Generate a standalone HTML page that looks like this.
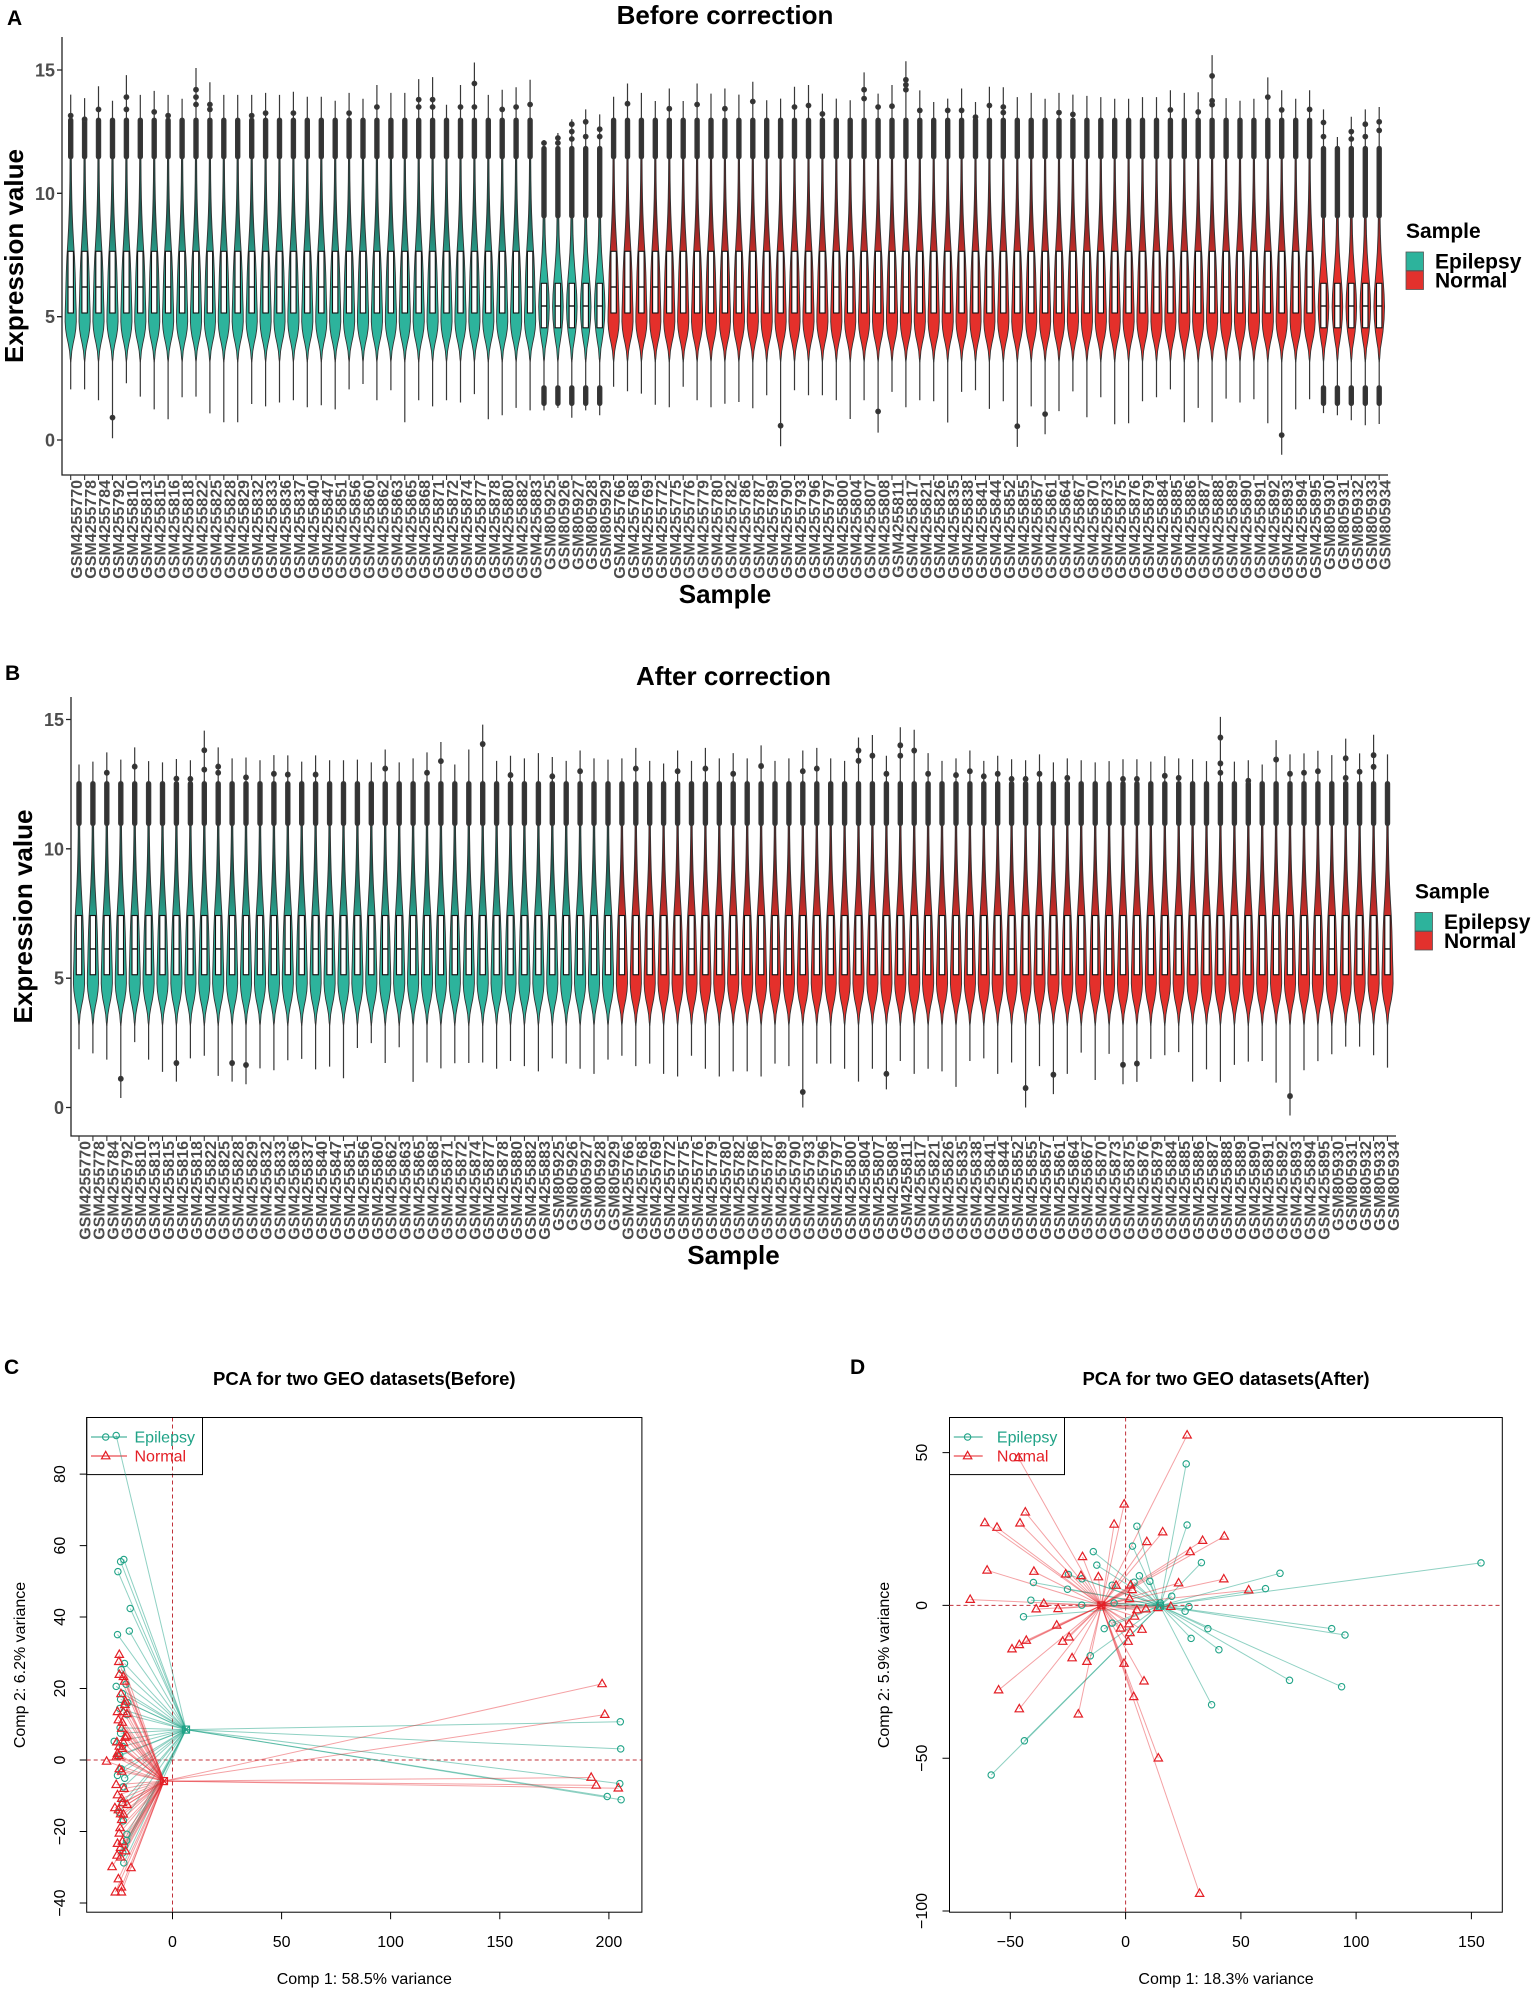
<!DOCTYPE html>
<html><head><meta charset="utf-8"><style>
html,body{margin:0;padding:0;background:#fff}
svg{display:block}
text{font-family:"Liberation Sans",Arial,sans-serif}
.v circle{fill:#333}
.ax{font-weight:bold;fill:#4d4d4d}
.gl{font-weight:bold;font-size:16px;fill:#4d4d4d;text-anchor:end}
.r text{font-size:16px;fill:#000}
.r text.pl{font-size:21px;font-weight:bold}
</style></head><body>
<svg width="1535" height="1993" viewBox="0 0 1535 1993" xmlns="http://www.w3.org/2000/svg">
<defs>
<linearGradient id="gE" gradientUnits="userSpaceOnUse" x1="0" y1="-172" x2="0" y2="-232"><stop offset="0" stop-color="#2DB39C"/><stop offset="1" stop-color="#1c5a50"/></linearGradient>
<linearGradient id="gN" gradientUnits="userSpaceOnUse" x1="0" y1="-172" x2="0" y2="-232"><stop offset="0" stop-color="#E4302B"/><stop offset="1" stop-color="#6e2222"/></linearGradient>
<path id="vr" stroke="#333" stroke-width="0.9" stroke-linejoin="round" d="M0,-78L0.5,-81.4 1.1,-88.8 2.4,-96.2 4,-103.6 5.1,-111 5.6,-118.4 5.5,-128.3 5.1,-140.6 4.8,-153 4.4,-167.8 3.8,-182.6 2.9,-197.4 2.1,-212.2 1.5,-227 1.1,-241.8 0.8,-259 0.6,-283.7 0.5,-308.4 0,-312 -0.5,-308.4 -0.6,-283.7 -0.8,-259 -1.1,-241.8 -1.5,-227 -2.1,-212.2 -2.9,-197.4 -3.8,-182.6 -4.4,-167.8 -4.8,-153 -5.1,-140.6 -5.5,-128.3 -5.6,-118.4 -5.1,-111 -4,-103.6 -2.4,-96.2 -1.1,-88.8 -0.5,-81.4Z"/>
<path id="vs" stroke="#333" stroke-width="0.9" stroke-linejoin="round" d="M0,-78L0.5,-81.4 1.2,-91.3 2.4,-98.7 3.8,-108.5 4.9,-120.9 5.3,-133.2 4.9,-145.6 4.1,-157.9 2.9,-172.7 1.9,-187.5 1.2,-204.8 0.9,-222 0.7,-246.7 0.5,-271.4 0,-275 -0.5,-271.4 -0.7,-246.7 -0.9,-222 -1.2,-204.8 -1.9,-187.5 -2.9,-172.7 -4.1,-157.9 -4.9,-145.6 -5.3,-133.2 -4.9,-120.9 -3.8,-108.5 -2.4,-98.7 -1.2,-91.3 -0.5,-81.4Z"/>
<g id="br" stroke="#111" stroke-width="1.1"><rect x="-2.7" y="-188.7" width="5.4" height="61.7" fill="#fff"/><path d="M-2.7-153H2.7" stroke-width="1.4"/></g>
<g id="bs" stroke="#111" stroke-width="1.1"><rect x="-2.7" y="-156.7" width="5.4" height="44.5" fill="#fff"/><path d="M-2.7-134H2.7" stroke-width="1.4"/></g>
<g id="bb" stroke="#111" stroke-width="1.1"><rect x="-2.7" y="-183.1" width="5.4" height="56.5" fill="#fff"/><path d="M-2.7-151.2H2.7" stroke-width="1.4"/></g>
<rect id="or" x="-2.1" y="-321.9" width="4.2" height="40.7" rx="2.1" fill="#333"/>
<g id="os" fill="#333"><rect x="-2.1" y="-293.6" width="4.2" height="71.6" rx="2.1"/><rect x="-2.1" y="-54.3" width="4.2" height="19.8" rx="2.1"/></g>
<rect id="ob" x="-2.1" y="-310.8" width="4.2" height="41.9" rx="2.1" fill="#333"/>
<path id="tr" d="M0-4.6L4.2,2.8H-4.2Z" fill="none" stroke="#E41F26" stroke-width="1.2"/>
</defs>
<rect width="1535" height="1993" fill="#fff"/>

<!-- ================= PANEL A ================= -->
<text x="7" y="25" font-size="21" font-weight="bold">A</text>
<text x="725" y="24" font-size="26" font-weight="bold" text-anchor="middle">Before correction</text>
<g class="v" transform="translate(0,440)" stroke="#383838" stroke-width="1.2">
<g fill="url(#gE)">
<g transform="translate(70.7)"><path d="M0-50.6V-345.4"/><use href="#vr"/><use href="#br"/><use href="#or"/><circle cy="-324.4" r="2.3"/></g>
<g transform="translate(84.6)"><path d="M0-50.6V-341.9"/><use href="#vr"/><use href="#br"/><use href="#or"/><circle cy="-320.7" r="2.3"/></g>
<g transform="translate(98.5)"><path d="M0-39.7V-353.8"/><use href="#vr"/><use href="#br"/><use href="#or"/><circle cy="-330.6" r="2.3"/></g>
<g transform="translate(112.5)"><path d="M0-1.7V-339.2"/><use href="#vr"/><use href="#br"/><use href="#or"/><circle cy="-22.4" r="2.3"/></g>
<g transform="translate(126.4)"><path d="M0-56.7V-364.9"/><use href="#vr"/><use href="#br"/><use href="#or"/><circle cy="-342.9" r="2.3"/><circle cy="-330.6" r="2.3"/></g>
<g transform="translate(140.3)"><path d="M0-43.4V-345.1"/><use href="#vr"/><use href="#br"/><use href="#or"/></g>
<g transform="translate(154.2)"><path d="M0-30.6V-349.1"/><use href="#vr"/><use href="#br"/><use href="#or"/><circle cy="-328.1" r="2.3"/></g>
<g transform="translate(168.1)"><path d="M0-20.7V-345.1"/><use href="#vr"/><use href="#br"/><use href="#or"/><circle cy="-324.4" r="2.3"/></g>
<g transform="translate(182.1)"><path d="M0-42.7V-341.2"/><use href="#vr"/><use href="#br"/><use href="#or"/></g>
<g transform="translate(196)"><path d="M0-43.4V-372"/><use href="#vr"/><use href="#br"/><use href="#or"/><circle cy="-350.3" r="2.3"/><circle cy="-342.9" r="2.3"/><circle cy="-335.5" r="2.3"/></g>
<g transform="translate(209.9)"><path d="M0-26.6V-357.7"/><use href="#vr"/><use href="#br"/><use href="#or"/><circle cy="-335.5" r="2.3"/><circle cy="-330.6" r="2.3"/></g>
<g transform="translate(223.8)"><path d="M0-17.8V-345.1"/><use href="#vr"/><use href="#br"/><use href="#or"/></g>
<g transform="translate(237.7)"><path d="M0-17.8V-345.1"/><use href="#vr"/><use href="#br"/><use href="#or"/></g>
<g transform="translate(251.7)"><path d="M0-36V-345.1"/><use href="#vr"/><use href="#br"/><use href="#or"/><circle cy="-324.4" r="2.3"/></g>
<g transform="translate(265.6)"><path d="M0-33.6V-347.1"/><use href="#vr"/><use href="#br"/><use href="#or"/><circle cy="-326.9" r="2.3"/></g>
<g transform="translate(279.5)"><path d="M0-37.5V-345.1"/><use href="#vr"/><use href="#br"/><use href="#or"/></g>
<g transform="translate(293.4)"><path d="M0-39.7V-348.3"/><use href="#vr"/><use href="#br"/><use href="#or"/><circle cy="-326.9" r="2.3"/></g>
<g transform="translate(307.3)"><path d="M0-32.8V-343.2"/><use href="#vr"/><use href="#br"/><use href="#or"/></g>
<g transform="translate(321.3)"><path d="M0-34.8V-343.2"/><use href="#vr"/><use href="#br"/><use href="#or"/></g>
<g transform="translate(335.2)"><path d="M0-30.6V-339.2"/><use href="#vr"/><use href="#br"/><use href="#or"/></g>
<g transform="translate(349.1)"><path d="M0-50.6V-347.1"/><use href="#vr"/><use href="#br"/><use href="#or"/><circle cy="-326.9" r="2.3"/></g>
<g transform="translate(363)"><path d="M0-56V-341.2"/><use href="#vr"/><use href="#br"/><use href="#or"/></g>
<g transform="translate(376.9)"><path d="M0-39.7V-355"/><use href="#vr"/><use href="#br"/><use href="#or"/><circle cy="-333" r="2.3"/></g>
<g transform="translate(390.9)"><path d="M0-49.8V-347.1"/><use href="#vr"/><use href="#br"/><use href="#or"/></g>
<g transform="translate(404.8)"><path d="M0-17.8V-347.1"/><use href="#vr"/><use href="#br"/><use href="#or"/></g>
<g transform="translate(418.7)"><path d="M0-39.7V-360.9"/><use href="#vr"/><use href="#br"/><use href="#or"/><circle cy="-340.4" r="2.3"/><circle cy="-333" r="2.3"/></g>
<g transform="translate(432.6)"><path d="M0-33.6V-362.9"/><use href="#vr"/><use href="#br"/><use href="#or"/><circle cy="-340.4" r="2.3"/><circle cy="-333" r="2.3"/></g>
<g transform="translate(446.5)"><path d="M0-39.7V-335.3"/><use href="#vr"/><use href="#br"/><use href="#or"/></g>
<g transform="translate(460.5)"><path d="M0-37.5V-355"/><use href="#vr"/><use href="#br"/><use href="#or"/><circle cy="-333" r="2.3"/></g>
<g transform="translate(474.4)"><path d="M0-45.9V-377.5"/><use href="#vr"/><use href="#br"/><use href="#or"/><circle cy="-356.5" r="2.3"/><circle cy="-333" r="2.3"/></g>
<g transform="translate(488.3)"><path d="M0-20.7V-345.1"/><use href="#vr"/><use href="#br"/><use href="#or"/></g>
<g transform="translate(502.2)"><path d="M0-24.7V-350.3"/><use href="#vr"/><use href="#br"/><use href="#or"/><circle cy="-330.6" r="2.3"/></g>
<g transform="translate(516.1)"><path d="M0-32.1V-352.8"/><use href="#vr"/><use href="#br"/><use href="#or"/><circle cy="-333" r="2.3"/></g>
<g transform="translate(530.1)"><path d="M0-29.6V-360.2"/><use href="#vr"/><use href="#br"/><use href="#or"/><circle cy="-335.5" r="2.3"/></g>
<g transform="translate(544)"><path d="M0-29.6V-300"/><use href="#vs"/><use href="#bs"/><use href="#os"/><circle cy="-297" r="2.3"/></g>
<g transform="translate(557.9)"><path d="M0-32.1V-307"/><use href="#vs"/><use href="#bs"/><use href="#os"/><circle cy="-302" r="2.3"/><circle cy="-297" r="2.3"/></g>
<g transform="translate(571.8)"><path d="M0-22.2V-320.7"/><use href="#vs"/><use href="#bs"/><use href="#os"/><circle cy="-315.8" r="2.3"/><circle cy="-308.4" r="2.3"/><circle cy="-301" r="2.3"/></g>
<g transform="translate(585.7)"><path d="M0-29.6V-330.6"/><use href="#vs"/><use href="#bs"/><use href="#os"/><circle cy="-318.2" r="2.3"/><circle cy="-303.4" r="2.3"/></g>
<g transform="translate(599.7)"><path d="M0-24.7V-325.6"/><use href="#vs"/><use href="#bs"/><use href="#os"/><circle cy="-310.8" r="2.3"/><circle cy="-303.4" r="2.3"/></g>
</g>
<g fill="url(#gN)">
<g transform="translate(613.6)"><path d="M0-53.3V-343.2"/><use href="#vr"/><use href="#br"/><use href="#or"/></g>
<g transform="translate(627.5)"><path d="M0-48.8V-356.5"/><use href="#vr"/><use href="#br"/><use href="#or"/><circle cy="-336.3" r="2.3"/></g>
<g transform="translate(641.4)"><path d="M0-46.4V-347.1"/><use href="#vr"/><use href="#br"/><use href="#or"/></g>
<g transform="translate(655.3)"><path d="M0-35.3V-339"/><use href="#vr"/><use href="#br"/><use href="#or"/></g>
<g transform="translate(669.3)"><path d="M0-32.8V-351.5"/><use href="#vr"/><use href="#br"/><use href="#or"/><circle cy="-331.3" r="2.3"/></g>
<g transform="translate(683.2)"><path d="M0-53.3V-339"/><use href="#vr"/><use href="#br"/><use href="#or"/></g>
<g transform="translate(697.1)"><path d="M0-39.7V-356.5"/><use href="#vr"/><use href="#br"/><use href="#or"/><circle cy="-335.5" r="2.3"/></g>
<g transform="translate(711)"><path d="M0-32.8V-346.4"/><use href="#vr"/><use href="#br"/><use href="#or"/></g>
<g transform="translate(724.9)"><path d="M0-36.3V-351.5"/><use href="#vr"/><use href="#br"/><use href="#or"/><circle cy="-331.3" r="2.3"/></g>
<g transform="translate(738.9)"><path d="M0-38V-345.4"/><use href="#vr"/><use href="#br"/><use href="#or"/></g>
<g transform="translate(752.8)"><path d="M0-31.8V-358.2"/><use href="#vr"/><use href="#br"/><use href="#or"/><circle cy="-338.5" r="2.3"/></g>
<g transform="translate(766.7)"><path d="M0-44.7V-339.7"/><use href="#vr"/><use href="#br"/><use href="#or"/></g>
<g transform="translate(780.6)"><path d="M0 6.2V-341.4"/><use href="#vr"/><use href="#br"/><use href="#or"/><circle cy="-14.3" r="2.3"/></g>
<g transform="translate(794.5)"><path d="M0-49.8V-353.3"/><use href="#vr"/><use href="#br"/><use href="#or"/><circle cy="-333" r="2.3"/></g>
<g transform="translate(808.5)"><path d="M0-44.7V-355"/><use href="#vr"/><use href="#br"/><use href="#or"/><circle cy="-334.5" r="2.3"/></g>
<g transform="translate(822.4)"><path d="M0-44.7V-346.4"/><use href="#vr"/><use href="#br"/><use href="#or"/><circle cy="-326.1" r="2.3"/></g>
<g transform="translate(836.3)"><path d="M0-39.7V-341.4"/><use href="#vr"/><use href="#br"/><use href="#or"/></g>
<g transform="translate(850.2)"><path d="M0-21V-339.7"/><use href="#vr"/><use href="#br"/><use href="#or"/></g>
<g transform="translate(864.1)"><path d="M0-39.7V-367.6"/><use href="#vr"/><use href="#br"/><use href="#or"/><circle cy="-350.3" r="2.3"/><circle cy="-341.4" r="2.3"/></g>
<g transform="translate(878.1)"><path d="M0-7.4V-346.4"/><use href="#vr"/><use href="#br"/><use href="#or"/><circle cy="-333" r="2.3"/><circle cy="-28.6" r="2.3"/></g>
<g transform="translate(892)"><path d="M0-48.1V-355"/><use href="#vr"/><use href="#br"/><use href="#or"/><circle cy="-333.8" r="2.3"/></g>
<g transform="translate(905.9)"><path d="M0-32.8V-378.7"/><use href="#vr"/><use href="#br"/><use href="#or"/><circle cy="-360.2" r="2.3"/><circle cy="-355.2" r="2.3"/><circle cy="-350.3" r="2.3"/></g>
<g transform="translate(919.8)"><path d="M0-39.7V-349.6"/><use href="#vr"/><use href="#br"/><use href="#or"/><circle cy="-329.6" r="2.3"/></g>
<g transform="translate(933.7)"><path d="M0-38.7V-338"/><use href="#vr"/><use href="#br"/><use href="#or"/></g>
<g transform="translate(947.7)"><path d="M0-17.5V-341.4"/><use href="#vr"/><use href="#br"/><use href="#or"/><circle cy="-329.6" r="2.3"/></g>
<g transform="translate(961.6)"><path d="M0-48.1V-351.5"/><use href="#vr"/><use href="#br"/><use href="#or"/><circle cy="-329.6" r="2.3"/></g>
<g transform="translate(975.5)"><path d="M0-49.8V-338"/><use href="#vr"/><use href="#br"/><use href="#or"/><circle cy="-322.9" r="2.3"/></g>
<g transform="translate(989.4)"><path d="M0-31.1V-353.3"/><use href="#vr"/><use href="#br"/><use href="#or"/><circle cy="-334.5" r="2.3"/></g>
<g transform="translate(1003.3)"><path d="M0-38.7V-352.8"/><use href="#vr"/><use href="#br"/><use href="#or"/><circle cy="-333" r="2.3"/><circle cy="-327.4" r="2.3"/></g>
<g transform="translate(1017.3)"><path d="M0 6.9V-342.9"/><use href="#vr"/><use href="#br"/><use href="#or"/><circle cy="-13.8" r="2.3"/></g>
<g transform="translate(1031.2)"><path d="M0-33.6V-347.1"/><use href="#vr"/><use href="#br"/><use href="#or"/></g>
<g transform="translate(1045.1)"><path d="M0-5.7V-341.2"/><use href="#vr"/><use href="#br"/><use href="#or"/><circle cy="-25.9" r="2.3"/></g>
<g transform="translate(1059)"><path d="M0-28.9V-347.1"/><use href="#vr"/><use href="#br"/><use href="#or"/><circle cy="-327.4" r="2.3"/></g>
<g transform="translate(1072.9)"><path d="M0-48.6V-345.4"/><use href="#vr"/><use href="#br"/><use href="#or"/><circle cy="-325.6" r="2.3"/></g>
<g transform="translate(1086.9)"><path d="M0-22.7V-344.1"/><use href="#vr"/><use href="#br"/><use href="#or"/></g>
<g transform="translate(1100.8)"><path d="M0-42.7V-342.9"/><use href="#vr"/><use href="#br"/><use href="#or"/></g>
<g transform="translate(1114.7)"><path d="M0-15.8V-341.2"/><use href="#vr"/><use href="#br"/><use href="#or"/></g>
<g transform="translate(1128.6)"><path d="M0-16.8V-341.2"/><use href="#vr"/><use href="#br"/><use href="#or"/></g>
<g transform="translate(1142.5)"><path d="M0-38.7V-342.9"/><use href="#vr"/><use href="#br"/><use href="#or"/></g>
<g transform="translate(1156.5)"><path d="M0-42.7V-342.9"/><use href="#vr"/><use href="#br"/><use href="#or"/></g>
<g transform="translate(1170.4)"><path d="M0-50.6V-349.8"/><use href="#vr"/><use href="#br"/><use href="#or"/><circle cy="-330.1" r="2.3"/></g>
<g transform="translate(1184.3)"><path d="M0-17.8V-347.1"/><use href="#vr"/><use href="#br"/><use href="#or"/></g>
<g transform="translate(1198.2)"><path d="M0-32.1V-347.8"/><use href="#vr"/><use href="#br"/><use href="#or"/><circle cy="-328.1" r="2.3"/></g>
<g transform="translate(1212.1)"><path d="M0-17.8V-384.9"/><use href="#vr"/><use href="#br"/><use href="#or"/><circle cy="-364.1" r="2.3"/><circle cy="-339.2" r="2.3"/><circle cy="-335.3" r="2.3"/></g>
<g transform="translate(1226.1)"><path d="M0-41.4V-341.9"/><use href="#vr"/><use href="#br"/><use href="#or"/></g>
<g transform="translate(1240)"><path d="M0-37.5V-339.2"/><use href="#vr"/><use href="#br"/><use href="#or"/></g>
<g transform="translate(1253.9)"><path d="M0-40.7V-341.2"/><use href="#vr"/><use href="#br"/><use href="#or"/></g>
<g transform="translate(1267.8)"><path d="M0-16.8V-362.6"/><use href="#vr"/><use href="#br"/><use href="#or"/><circle cy="-342.9" r="2.3"/></g>
<g transform="translate(1281.7)"><path d="M0 14.8V-349.8"/><use href="#vr"/><use href="#br"/><use href="#or"/><circle cy="-330.1" r="2.3"/><circle cy="-4.9" r="2.3"/></g>
<g transform="translate(1295.7)"><path d="M0-30.6V-341.2"/><use href="#vr"/><use href="#br"/><use href="#or"/></g>
<g transform="translate(1309.6)"><path d="M0-40.7V-349.8"/><use href="#vr"/><use href="#br"/><use href="#or"/><circle cy="-330.6" r="2.3"/></g>
<g transform="translate(1323.5)"><path d="M0-26.9V-330.6"/><use href="#vs"/><use href="#bs"/><use href="#os"/><circle cy="-317.5" r="2.3"/><circle cy="-303.4" r="2.3"/></g>
<g transform="translate(1337.4)"><path d="M0-24.7V-303"/><use href="#vs"/><use href="#bs"/><use href="#os"/></g>
<g transform="translate(1351.3)"><path d="M0-19.7V-323.2"/><use href="#vs"/><use href="#bs"/><use href="#os"/><circle cy="-308.4" r="2.3"/><circle cy="-301" r="2.3"/></g>
<g transform="translate(1365.3)"><path d="M0-14.8V-330.6"/><use href="#vs"/><use href="#bs"/><use href="#os"/><circle cy="-315.8" r="2.3"/><circle cy="-303.4" r="2.3"/></g>
<g transform="translate(1379.2)"><path d="M0-16V-333"/><use href="#vs"/><use href="#bs"/><use href="#os"/><circle cy="-318.2" r="2.3"/><circle cy="-309.6" r="2.3"/></g>
</g>
</g>
<!-- A axes -->
<g stroke="#222" stroke-width="1.3" fill="none">
<path d="M62 37V475H1388"/>
<path d="M57 70H62M57 193.3H62M57 316.7H62M57 440H62"/>
</g>
<path d="M70.15 477.5H1390" stroke="#333" stroke-width="5" stroke-dasharray="1.1 12.82"/>
<g class="ax" font-size="18" text-anchor="end">
<text x="55" y="76.5">15</text><text x="55" y="199.8">10</text><text x="55" y="323.2">5</text><text x="55" y="446.5">0</text>
</g>
<text transform="translate(23,256) rotate(-90)" font-size="26" font-weight="bold" text-anchor="middle">Expression value</text>
<text x="725" y="603" font-size="26" font-weight="bold" text-anchor="middle">Sample</text>
<g class="gl" transform="translate(0,480) rotate(-90)">
<text y="82.2">GSM4255770</text><text y="96.1">GSM4255778</text><text y="110">GSM4255784</text><text y="124">GSM4255792</text><text y="137.9">GSM4255810</text><text y="151.8">GSM4255813</text><text y="165.7">GSM4255815</text><text y="179.6">GSM4255816</text><text y="193.6">GSM4255818</text><text y="207.5">GSM4255822</text><text y="221.4">GSM4255825</text><text y="235.3">GSM4255828</text><text y="249.2">GSM4255829</text><text y="263.2">GSM4255832</text><text y="277.1">GSM4255833</text><text y="291">GSM4255836</text><text y="304.9">GSM4255837</text><text y="318.8">GSM4255840</text><text y="332.8">GSM4255847</text><text y="346.7">GSM4255851</text><text y="360.6">GSM4255856</text><text y="374.5">GSM4255860</text><text y="388.4">GSM4255862</text><text y="402.4">GSM4255863</text><text y="416.3">GSM4255865</text><text y="430.2">GSM4255868</text><text y="444.1">GSM4255871</text><text y="458">GSM4255872</text><text y="472">GSM4255874</text><text y="485.9">GSM4255877</text><text y="499.8">GSM4255878</text><text y="513.7">GSM4255880</text><text y="527.6">GSM4255882</text><text y="541.6">GSM4255883</text><text y="555.5">GSM805925</text><text y="569.4">GSM805926</text><text y="583.3">GSM805927</text><text y="597.2">GSM805928</text><text y="611.2">GSM805929</text><text y="625.1">GSM4255766</text><text y="639">GSM4255768</text><text y="652.9">GSM4255769</text><text y="666.8">GSM4255772</text><text y="680.8">GSM4255775</text><text y="694.7">GSM4255776</text><text y="708.6">GSM4255779</text><text y="722.5">GSM4255780</text><text y="736.4">GSM4255782</text><text y="750.4">GSM4255786</text><text y="764.3">GSM4255787</text><text y="778.2">GSM4255789</text><text y="792.1">GSM4255790</text><text y="806">GSM4255793</text><text y="820">GSM4255796</text><text y="833.9">GSM4255797</text><text y="847.8">GSM4255800</text><text y="861.7">GSM4255804</text><text y="875.6">GSM4255807</text><text y="889.6">GSM4255808</text><text y="903.5">GSM4255811</text><text y="917.4">GSM4255817</text><text y="931.3">GSM4255821</text><text y="945.2">GSM4255826</text><text y="959.2">GSM4255835</text><text y="973.1">GSM4255838</text><text y="987">GSM4255841</text><text y="1000.9">GSM4255844</text><text y="1014.8">GSM4255852</text><text y="1028.8">GSM4255855</text><text y="1042.7">GSM4255857</text><text y="1056.6">GSM4255861</text><text y="1070.5">GSM4255864</text><text y="1084.4">GSM4255867</text><text y="1098.4">GSM4255870</text><text y="1112.3">GSM4255873</text><text y="1126.2">GSM4255875</text><text y="1140.1">GSM4255876</text><text y="1154">GSM4255879</text><text y="1168">GSM4255884</text><text y="1181.9">GSM4255885</text><text y="1195.8">GSM4255886</text><text y="1209.7">GSM4255887</text><text y="1223.6">GSM4255888</text><text y="1237.6">GSM4255889</text><text y="1251.5">GSM4255890</text><text y="1265.4">GSM4255891</text><text y="1279.3">GSM4255892</text><text y="1293.2">GSM4255893</text><text y="1307.2">GSM4255894</text><text y="1321.1">GSM4255895</text><text y="1335">GSM805930</text><text y="1348.9">GSM805931</text><text y="1362.8">GSM805932</text><text y="1376.8">GSM805933</text><text y="1390.7">GSM805934</text>
</g>
<!-- A legend -->
<text x="1406" y="238" font-size="21" font-weight="bold">Sample</text>
<rect x="1406" y="252" width="17.5" height="18.5" fill="#2DB39C" stroke="#555" stroke-width="0.8"/>
<rect x="1406" y="271" width="17.5" height="18.5" fill="#E2312D" stroke="#555" stroke-width="0.8"/>
<text x="1435" y="268.3" font-size="21" font-weight="bold">Epilepsy</text>
<text x="1435" y="287.3" font-size="21" font-weight="bold">Normal</text>

<!-- ================= PANEL B ================= -->
<text x="5" y="680" font-size="21" font-weight="bold">B</text>
<text x="733.5" y="685" font-size="26" font-weight="bold" text-anchor="middle">After correction</text>
<g class="v" transform="translate(8.3,1107.5) scale(1,1.0486)" stroke="#383838" stroke-width="1.2">
<g fill="url(#gE)">
<g transform="translate(70.7)"><path d="M0-55.5V-327.1"/><use href="#vr"/><use href="#bb"/><use href="#ob"/></g>
<g transform="translate(84.6)"><path d="M0-51.6V-329.8"/><use href="#vr"/><use href="#bb"/><use href="#ob"/></g>
<g transform="translate(98.5)"><path d="M0-45.6V-338.7"/><use href="#vr"/><use href="#bb"/><use href="#ob"/><circle cy="-319.2" r="2.3"/></g>
<g transform="translate(112.5)"><path d="M0-9.1V-331.8"/><use href="#vr"/><use href="#bb"/><use href="#ob"/><circle cy="-27.4" r="2.3"/></g>
<g transform="translate(126.4)"><path d="M0-62.4V-343.4"/><use href="#vr"/><use href="#bb"/><use href="#ob"/><circle cy="-325.1" r="2.3"/></g>
<g transform="translate(140.3)"><path d="M0-45.6V-330.3"/><use href="#vr"/><use href="#bb"/><use href="#ob"/></g>
<g transform="translate(154.2)"><path d="M0-34V-329.1"/><use href="#vr"/><use href="#bb"/><use href="#ob"/></g>
<g transform="translate(168.1)"><path d="M0-24.7V-332.3"/><use href="#vr"/><use href="#bb"/><use href="#ob"/><circle cy="-313.6" r="2.3"/><circle cy="-42.4" r="2.3"/></g>
<g transform="translate(182.1)"><path d="M0-46.9V-331.1"/><use href="#vr"/><use href="#bb"/><use href="#ob"/><circle cy="-313.3" r="2.3"/></g>
<g transform="translate(196)"><path d="M0-49.3V-359.4"/><use href="#vr"/><use href="#bb"/><use href="#ob"/><circle cy="-340.7" r="2.3"/><circle cy="-322.2" r="2.3"/></g>
<g transform="translate(209.9)"><path d="M0-30.1V-343.4"/><use href="#vr"/><use href="#bb"/><use href="#ob"/><circle cy="-325.1" r="2.3"/><circle cy="-319.2" r="2.3"/></g>
<g transform="translate(223.8)"><path d="M0-24.7V-333"/><use href="#vr"/><use href="#bb"/><use href="#ob"/><circle cy="-42.4" r="2.3"/></g>
<g transform="translate(237.7)"><path d="M0-22.2V-333.8"/><use href="#vr"/><use href="#bb"/><use href="#ob"/><circle cy="-314.8" r="2.3"/><circle cy="-40.5" r="2.3"/></g>
<g transform="translate(251.7)"><path d="M0-37.3V-331.1"/><use href="#vr"/><use href="#bb"/><use href="#ob"/></g>
<g transform="translate(265.6)"><path d="M0-35.5V-336"/><use href="#vr"/><use href="#bb"/><use href="#ob"/><circle cy="-318.2" r="2.3"/></g>
<g transform="translate(279.5)"><path d="M0-45.1V-335.8"/><use href="#vr"/><use href="#bb"/><use href="#ob"/><circle cy="-317.5" r="2.3"/></g>
<g transform="translate(293.4)"><path d="M0-46.4V-329.8"/><use href="#vr"/><use href="#bb"/><use href="#ob"/></g>
<g transform="translate(307.3)"><path d="M0-36.3V-335.8"/><use href="#vr"/><use href="#bb"/><use href="#ob"/><circle cy="-317.5" r="2.3"/></g>
<g transform="translate(321.3)"><path d="M0-39V-331.1"/><use href="#vr"/><use href="#bb"/><use href="#ob"/></g>
<g transform="translate(335.2)"><path d="M0-27.9V-331.1"/><use href="#vr"/><use href="#bb"/><use href="#ob"/></g>
<g transform="translate(349.1)"><path d="M0-56.7V-331.8"/><use href="#vr"/><use href="#bb"/><use href="#ob"/></g>
<g transform="translate(363)"><path d="M0-61.4V-329.1"/><use href="#vr"/><use href="#bb"/><use href="#ob"/></g>
<g transform="translate(376.9)"><path d="M0-42.4V-341.4"/><use href="#vr"/><use href="#bb"/><use href="#ob"/><circle cy="-323.2" r="2.3"/></g>
<g transform="translate(390.9)"><path d="M0-57.5V-329.1"/><use href="#vr"/><use href="#bb"/><use href="#ob"/></g>
<g transform="translate(404.8)"><path d="M0-24.4V-333"/><use href="#vr"/><use href="#bb"/><use href="#ob"/></g>
<g transform="translate(418.7)"><path d="M0-42.9V-338.7"/><use href="#vr"/><use href="#bb"/><use href="#ob"/><circle cy="-319.2" r="2.3"/></g>
<g transform="translate(432.6)"><path d="M0-37.3V-348.6"/><use href="#vr"/><use href="#bb"/><use href="#ob"/><circle cy="-330.3" r="2.3"/></g>
<g transform="translate(446.5)"><path d="M0-42.2V-327.1"/><use href="#vr"/><use href="#bb"/><use href="#ob"/></g>
<g transform="translate(460.5)"><path d="M0-42.4V-341.4"/><use href="#vr"/><use href="#bb"/><use href="#ob"/></g>
<g transform="translate(474.4)"><path d="M0-42.9V-365.1"/><use href="#vr"/><use href="#bb"/><use href="#ob"/><circle cy="-346.6" r="2.3"/></g>
<g transform="translate(488.3)"><path d="M0-37V-330.6"/><use href="#vr"/><use href="#bb"/><use href="#ob"/></g>
<g transform="translate(502.2)"><path d="M0-44.4V-335.5"/><use href="#vr"/><use href="#bb"/><use href="#ob"/><circle cy="-317" r="2.3"/></g>
<g transform="translate(516.1)"><path d="M0-39.5V-333"/><use href="#vr"/><use href="#bb"/><use href="#ob"/></g>
<g transform="translate(530.1)"><path d="M0-34.5V-338"/><use href="#vr"/><use href="#bb"/><use href="#ob"/></g>
<g transform="translate(544)"><path d="M0-46.9V-334.3"/><use href="#vr"/><use href="#bb"/><use href="#ob"/><circle cy="-315.8" r="2.3"/></g>
<g transform="translate(557.9)"><path d="M0-41.9V-330.6"/><use href="#vr"/><use href="#bb"/><use href="#ob"/></g>
<g transform="translate(571.8)"><path d="M0-37V-340.4"/><use href="#vr"/><use href="#bb"/><use href="#ob"/><circle cy="-320.7" r="2.3"/></g>
<g transform="translate(585.7)"><path d="M0-32.1V-333"/><use href="#vr"/><use href="#bb"/><use href="#ob"/></g>
<g transform="translate(599.7)"><path d="M0-45.6V-331.8"/><use href="#vr"/><use href="#bb"/><use href="#ob"/></g>
</g>
<g fill="url(#gN)">
<g transform="translate(613.6)"><path d="M0-49.3V-333"/><use href="#vr"/><use href="#bb"/><use href="#ob"/></g>
<g transform="translate(627.5)"><path d="M0-39.5V-342.9"/><use href="#vr"/><use href="#bb"/><use href="#ob"/><circle cy="-323.2" r="2.3"/></g>
<g transform="translate(641.4)"><path d="M0-41.9V-330.6"/><use href="#vr"/><use href="#bb"/><use href="#ob"/></g>
<g transform="translate(655.3)"><path d="M0-32.1V-328.1"/><use href="#vr"/><use href="#bb"/><use href="#ob"/></g>
<g transform="translate(669.3)"><path d="M0-29.6V-340.4"/><use href="#vr"/><use href="#bb"/><use href="#ob"/><circle cy="-320.7" r="2.3"/></g>
<g transform="translate(683.2)"><path d="M0-49.3V-330.6"/><use href="#vr"/><use href="#bb"/><use href="#ob"/></g>
<g transform="translate(697.1)"><path d="M0-37V-342.9"/><use href="#vr"/><use href="#bb"/><use href="#ob"/><circle cy="-323.2" r="2.3"/></g>
<g transform="translate(711)"><path d="M0-29.6V-333"/><use href="#vr"/><use href="#bb"/><use href="#ob"/></g>
<g transform="translate(724.9)"><path d="M0-34.5V-338"/><use href="#vr"/><use href="#bb"/><use href="#ob"/><circle cy="-318.2" r="2.3"/></g>
<g transform="translate(738.9)"><path d="M0-34.5V-333"/><use href="#vr"/><use href="#bb"/><use href="#ob"/></g>
<g transform="translate(752.8)"><path d="M0-29.6V-345.4"/><use href="#vr"/><use href="#bb"/><use href="#ob"/><circle cy="-325.6" r="2.3"/></g>
<g transform="translate(766.7)"><path d="M0-41.9V-330.6"/><use href="#vr"/><use href="#bb"/><use href="#ob"/></g>
<g transform="translate(780.6)"><path d="M0-39.5V-333"/><use href="#vr"/><use href="#bb"/><use href="#ob"/></g>
<g transform="translate(794.5)"><path d="M0 0V-340.4"/><use href="#vr"/><use href="#bb"/><use href="#ob"/><circle cy="-320.7" r="2.3"/><circle cy="-14.8" r="2.3"/></g>
<g transform="translate(808.5)"><path d="M0-41.9V-342.9"/><use href="#vr"/><use href="#bb"/><use href="#ob"/><circle cy="-323.2" r="2.3"/></g>
<g transform="translate(822.4)"><path d="M0-41.9V-333"/><use href="#vr"/><use href="#bb"/><use href="#ob"/></g>
<g transform="translate(836.3)"><path d="M0-37V-330.6"/><use href="#vr"/><use href="#bb"/><use href="#ob"/></g>
<g transform="translate(850.2)"><path d="M0-24.7V-352.8"/><use href="#vr"/><use href="#bb"/><use href="#ob"/><circle cy="-340.4" r="2.3"/><circle cy="-330.6" r="2.3"/></g>
<g transform="translate(864.1)"><path d="M0-37V-355.2"/><use href="#vr"/><use href="#bb"/><use href="#ob"/><circle cy="-335.5" r="2.3"/></g>
<g transform="translate(878.1)"><path d="M0-17.3V-335.5"/><use href="#vr"/><use href="#bb"/><use href="#ob"/><circle cy="-318.2" r="2.3"/><circle cy="-32.1" r="2.3"/></g>
<g transform="translate(892)"><path d="M0-44.4V-362.6"/><use href="#vr"/><use href="#bb"/><use href="#ob"/><circle cy="-345.4" r="2.3"/><circle cy="-335.5" r="2.3"/></g>
<g transform="translate(905.9)"><path d="M0-32.1V-360.2"/><use href="#vr"/><use href="#bb"/><use href="#ob"/><circle cy="-340.4" r="2.3"/></g>
<g transform="translate(919.8)"><path d="M0-37V-338"/><use href="#vr"/><use href="#bb"/><use href="#ob"/><circle cy="-318.2" r="2.3"/></g>
<g transform="translate(933.7)"><path d="M0-34.5V-330.6"/><use href="#vr"/><use href="#bb"/><use href="#ob"/></g>
<g transform="translate(947.7)"><path d="M0-19.7V-333"/><use href="#vr"/><use href="#bb"/><use href="#ob"/><circle cy="-317" r="2.3"/></g>
<g transform="translate(961.6)"><path d="M0-44.4V-340.4"/><use href="#vr"/><use href="#bb"/><use href="#ob"/><circle cy="-320.7" r="2.3"/></g>
<g transform="translate(975.5)"><path d="M0-46.9V-330.6"/><use href="#vr"/><use href="#bb"/><use href="#ob"/><circle cy="-315.8" r="2.3"/></g>
<g transform="translate(989.4)"><path d="M0-32.1V-335.5"/><use href="#vr"/><use href="#bb"/><use href="#ob"/><circle cy="-318.2" r="2.3"/></g>
<g transform="translate(1003.3)"><path d="M0-42.9V-332.1"/><use href="#vr"/><use href="#bb"/><use href="#ob"/><circle cy="-313.3" r="2.3"/></g>
<g transform="translate(1017.3)"><path d="M0 0V-331.1"/><use href="#vr"/><use href="#bb"/><use href="#ob"/><circle cy="-313.3" r="2.3"/><circle cy="-18.5" r="2.3"/></g>
<g transform="translate(1031.2)"><path d="M0-39.5V-336.7"/><use href="#vr"/><use href="#bb"/><use href="#ob"/><circle cy="-318.2" r="2.3"/></g>
<g transform="translate(1045.1)"><path d="M0-12.8V-329.1"/><use href="#vr"/><use href="#bb"/><use href="#ob"/><circle cy="-31.3" r="2.3"/></g>
<g transform="translate(1059)"><path d="M0-32.1V-333"/><use href="#vr"/><use href="#bb"/><use href="#ob"/><circle cy="-314.3" r="2.3"/></g>
<g transform="translate(1072.9)"><path d="M0-52.3V-331.1"/><use href="#vr"/><use href="#bb"/><use href="#ob"/></g>
<g transform="translate(1086.9)"><path d="M0-26.2V-329.1"/><use href="#vr"/><use href="#bb"/><use href="#ob"/></g>
<g transform="translate(1100.8)"><path d="M0-51.1V-330.3"/><use href="#vr"/><use href="#bb"/><use href="#ob"/></g>
<g transform="translate(1114.7)"><path d="M0-22.2V-332.1"/><use href="#vr"/><use href="#bb"/><use href="#ob"/><circle cy="-313.3" r="2.3"/><circle cy="-40.7" r="2.3"/></g>
<g transform="translate(1128.6)"><path d="M0-24.4V-332.1"/><use href="#vr"/><use href="#bb"/><use href="#ob"/><circle cy="-313.3" r="2.3"/><circle cy="-41.9" r="2.3"/></g>
<g transform="translate(1142.5)"><path d="M0-46.4V-329.8"/><use href="#vr"/><use href="#bb"/><use href="#ob"/></g>
<g transform="translate(1156.5)"><path d="M0-49.8V-335"/><use href="#vr"/><use href="#bb"/><use href="#ob"/><circle cy="-316.3" r="2.3"/></g>
<g transform="translate(1170.4)"><path d="M0-52.8V-333"/><use href="#vr"/><use href="#bb"/><use href="#ob"/><circle cy="-314.3" r="2.3"/></g>
<g transform="translate(1184.3)"><path d="M0-24.7V-332.1"/><use href="#vr"/><use href="#bb"/><use href="#ob"/></g>
<g transform="translate(1198.2)"><path d="M0-36.3V-330.3"/><use href="#vr"/><use href="#bb"/><use href="#ob"/></g>
<g transform="translate(1212.1)"><path d="M0-24.4V-372.5"/><use href="#vr"/><use href="#bb"/><use href="#ob"/><circle cy="-352.8" r="2.3"/><circle cy="-328.1" r="2.3"/><circle cy="-319.2" r="2.3"/></g>
<g transform="translate(1226.1)"><path d="M0-40.7V-329.8"/><use href="#vr"/><use href="#bb"/><use href="#ob"/></g>
<g transform="translate(1240)"><path d="M0-43.7V-331.1"/><use href="#vr"/><use href="#bb"/><use href="#ob"/><circle cy="-311.6" r="2.3"/></g>
<g transform="translate(1253.9)"><path d="M0-44.4V-327.1"/><use href="#vr"/><use href="#bb"/><use href="#ob"/></g>
<g transform="translate(1267.8)"><path d="M0-23.7V-350.3"/><use href="#vr"/><use href="#bb"/><use href="#ob"/><circle cy="-331.8" r="2.3"/></g>
<g transform="translate(1281.7)"><path d="M0 7.6V-336.7"/><use href="#vr"/><use href="#bb"/><use href="#ob"/><circle cy="-318.2" r="2.3"/><circle cy="-10.9" r="2.3"/></g>
<g transform="translate(1295.7)"><path d="M0-35.5V-337.7"/><use href="#vr"/><use href="#bb"/><use href="#ob"/><circle cy="-319.2" r="2.3"/></g>
<g transform="translate(1309.6)"><path d="M0-44.2V-340.2"/><use href="#vr"/><use href="#bb"/><use href="#ob"/><circle cy="-320.7" r="2.3"/></g>
<g transform="translate(1323.5)"><path d="M0-50.8V-336"/><use href="#vr"/><use href="#bb"/><use href="#ob"/></g>
<g transform="translate(1337.4)"><path d="M0-58V-351.8"/><use href="#vr"/><use href="#bb"/><use href="#ob"/><circle cy="-333" r="2.3"/><circle cy="-314.3" r="2.3"/></g>
<g transform="translate(1351.3)"><path d="M0-58V-337.7"/><use href="#vr"/><use href="#bb"/><use href="#ob"/><circle cy="-320.2" r="2.3"/></g>
<g transform="translate(1365.3)"><path d="M0-49.8V-355.5"/><use href="#vr"/><use href="#bb"/><use href="#ob"/><circle cy="-336" r="2.3"/><circle cy="-324.9" r="2.3"/></g>
<g transform="translate(1379.2)"><path d="M0-38V-336.7"/><use href="#vr"/><use href="#bb"/><use href="#ob"/></g>
</g>
</g>
<!-- B axes -->
<g stroke="#222" stroke-width="1.3" fill="none">
<path d="M71 697V1136H1396"/>
<path d="M66 719.5H71M66 848.8H71M66 978.2H71M66 1107.5H71"/>
</g>
<path d="M78.45 1138.5H1398" stroke="#333" stroke-width="5" stroke-dasharray="1.1 12.82"/>
<g class="ax" font-size="18" text-anchor="end">
<text x="64" y="726">15</text><text x="64" y="855.3">10</text><text x="64" y="984.7">5</text><text x="64" y="1114">0</text>
</g>
<text transform="translate(32,916.5) rotate(-90)" font-size="26" font-weight="bold" text-anchor="middle">Expression value</text>
<text x="733.5" y="1264" font-size="26" font-weight="bold" text-anchor="middle">Sample</text>
<g class="gl" transform="translate(0,1141) rotate(-90)">
<text y="90.5">GSM4255770</text><text y="104.4">GSM4255778</text><text y="118.3">GSM4255784</text><text y="132.3">GSM4255792</text><text y="146.2">GSM4255810</text><text y="160.1">GSM4255813</text><text y="174">GSM4255815</text><text y="187.9">GSM4255816</text><text y="201.9">GSM4255818</text><text y="215.8">GSM4255822</text><text y="229.7">GSM4255825</text><text y="243.6">GSM4255828</text><text y="257.5">GSM4255829</text><text y="271.5">GSM4255832</text><text y="285.4">GSM4255833</text><text y="299.3">GSM4255836</text><text y="313.2">GSM4255837</text><text y="327.1">GSM4255840</text><text y="341.1">GSM4255847</text><text y="355">GSM4255851</text><text y="368.9">GSM4255856</text><text y="382.8">GSM4255860</text><text y="396.7">GSM4255862</text><text y="410.7">GSM4255863</text><text y="424.6">GSM4255865</text><text y="438.5">GSM4255868</text><text y="452.4">GSM4255871</text><text y="466.3">GSM4255872</text><text y="480.3">GSM4255874</text><text y="494.2">GSM4255877</text><text y="508.1">GSM4255878</text><text y="522">GSM4255880</text><text y="535.9">GSM4255882</text><text y="549.9">GSM4255883</text><text y="563.8">GSM805925</text><text y="577.7">GSM805926</text><text y="591.6">GSM805927</text><text y="605.5">GSM805928</text><text y="619.5">GSM805929</text><text y="633.4">GSM4255766</text><text y="647.3">GSM4255768</text><text y="661.2">GSM4255769</text><text y="675.1">GSM4255772</text><text y="689.1">GSM4255775</text><text y="703">GSM4255776</text><text y="716.9">GSM4255779</text><text y="730.8">GSM4255780</text><text y="744.7">GSM4255782</text><text y="758.7">GSM4255786</text><text y="772.6">GSM4255787</text><text y="786.5">GSM4255789</text><text y="800.4">GSM4255790</text><text y="814.3">GSM4255793</text><text y="828.3">GSM4255796</text><text y="842.2">GSM4255797</text><text y="856.1">GSM4255800</text><text y="870">GSM4255804</text><text y="883.9">GSM4255807</text><text y="897.9">GSM4255808</text><text y="911.8">GSM4255811</text><text y="925.7">GSM4255817</text><text y="939.6">GSM4255821</text><text y="953.5">GSM4255826</text><text y="967.5">GSM4255835</text><text y="981.4">GSM4255838</text><text y="995.3">GSM4255841</text><text y="1009.2">GSM4255844</text><text y="1023.1">GSM4255852</text><text y="1037.1">GSM4255855</text><text y="1051">GSM4255857</text><text y="1064.9">GSM4255861</text><text y="1078.8">GSM4255864</text><text y="1092.7">GSM4255867</text><text y="1106.7">GSM4255870</text><text y="1120.6">GSM4255873</text><text y="1134.5">GSM4255875</text><text y="1148.4">GSM4255876</text><text y="1162.3">GSM4255879</text><text y="1176.3">GSM4255884</text><text y="1190.2">GSM4255885</text><text y="1204.1">GSM4255886</text><text y="1218">GSM4255887</text><text y="1231.9">GSM4255888</text><text y="1245.9">GSM4255889</text><text y="1259.8">GSM4255890</text><text y="1273.7">GSM4255891</text><text y="1287.6">GSM4255892</text><text y="1301.5">GSM4255893</text><text y="1315.5">GSM4255894</text><text y="1329.4">GSM4255895</text><text y="1343.3">GSM805930</text><text y="1357.2">GSM805931</text><text y="1371.1">GSM805932</text><text y="1385.1">GSM805933</text><text y="1399">GSM805934</text>
</g>
<!-- B legend -->
<text x="1415" y="898.5" font-size="21" font-weight="bold">Sample</text>
<rect x="1415" y="912.5" width="17.5" height="18.5" fill="#2DB39C" stroke="#555" stroke-width="0.8"/>
<rect x="1415" y="931.5" width="17.5" height="18.5" fill="#E2312D" stroke="#555" stroke-width="0.8"/>
<text x="1444" y="928.8" font-size="21" font-weight="bold">Epilepsy</text>
<text x="1444" y="947.8" font-size="21" font-weight="bold">Normal</text>

<!-- ================= PANEL C ================= -->
<g class="r">
<text class="pl" x="4" y="1374">C</text>
<text x="364.3" y="1385" style="font-size:18.5px;font-weight:bold" text-anchor="middle">PCA for two GEO datasets(Before)</text>
<rect x="86.7" y="1417.5" width="555.2" height="494.7" fill="none" stroke="#000" stroke-width="1"/>
<path d="M172.5 1912.2v7M281.6 1912.2v7M390.6 1912.2v7M499.8 1912.2v7M608.9 1912.2v7M86.7 1903h-7M86.7 1831.5h-7M86.7 1760h-7M86.7 1688.5h-7M86.7 1617h-7M86.7 1545.6h-7M86.7 1474.1h-7" stroke="#000" stroke-width="1"/>
<g text-anchor="middle">
<text x="172.5" y="1947">0</text><text x="281.6" y="1947">50</text><text x="390.6" y="1947">100</text><text x="499.8" y="1947">150</text><text x="608.9" y="1947">200</text>
<text transform="translate(65,1903) rotate(-90)">−40</text><text transform="translate(65,1831.5) rotate(-90)">−20</text><text transform="translate(65,1760) rotate(-90)">0</text><text transform="translate(65,1688.5) rotate(-90)">20</text><text transform="translate(65,1617) rotate(-90)">40</text><text transform="translate(65,1545.6) rotate(-90)">60</text><text transform="translate(65,1474.1) rotate(-90)">80</text>
<text x="364.3" y="1984">Comp 1: 58.5% variance</text>
<text transform="translate(25,1665) rotate(-90)">Comp 2: 6.2% variance</text>
</g>
<path d="M172.5 1417.5V1912.2M86.7 1760H641.9" stroke="#C0313A" stroke-width="1" stroke-dasharray="4 3"/>
<rect x="86.7" y="1417.5" width="115.8" height="57.1" fill="none" stroke="#000" stroke-width="1"/>
<path d="M91 1437H127" stroke="#20A387" stroke-width="1"/><circle cx="105.7" cy="1437" r="3.2" fill="none" stroke="#20A387" stroke-width="1.1"/>
<path d="M91 1456H127" stroke="#E41F26" stroke-width="1"/><use href="#tr" x="105.7" y="1456"/>
<text x="134.5" y="1442.5" style="fill:#20A387">Epilepsy</text>
<text x="134.5" y="1461.5" style="fill:#E41F26">Normal</text>
</g>
<g stroke="#20A387" stroke-opacity="0.5" stroke-width="1">
<path d="M116.2 1435.5L186 1729.6"/><path d="M120.6 1561.6L186 1729.6"/><path d="M123.8 1559.5L186 1729.6"/><path d="M117.9 1571.6L186 1729.6"/><path d="M130.2 1608.5L186 1729.6"/><path d="M117.5 1634.6L186 1729.6"/><path d="M129.3 1631L186 1729.6"/><path d="M121.2 1669.6L186 1729.6"/><path d="M116.2 1686.4L186 1729.6"/><path d="M126 1684.2L186 1729.6"/><path d="M122.3 1693.5L186 1729.6"/><path d="M120.6 1699.2L186 1729.6"/><path d="M119.7 1708.5L186 1729.6"/><path d="M126.9 1714.6L186 1729.6"/><path d="M114.2 1741.4L186 1729.6"/><path d="M119.7 1755L186 1729.6"/><path d="M122.5 1746.4L186 1729.6"/><path d="M117.5 1775.4L186 1729.6"/><path d="M124.7 1778.2L186 1729.6"/><path d="M123.4 1786.8L186 1729.6"/><path d="M119.3 1812.2L186 1729.6"/><path d="M126.9 1834.3L186 1729.6"/><path d="M124.7 1845.8L186 1729.6"/><path d="M123.8 1862.9L186 1729.6"/><path d="M122.3 1802.9L186 1729.6"/><path d="M120.1 1727.8L186 1729.6"/><path d="M124.5 1663.5L186 1729.6"/><path d="M121.2 1768.9L186 1729.6"/><path d="M126.7 1840.4L186 1729.6"/><path d="M118.4 1756.4L186 1729.6"/><path d="M123.4 1820.8L186 1729.6"/><path d="M127.8 1702.8L186 1729.6"/><path d="M120.6 1733.2L186 1729.6"/><path d="M122.8 1852.9L186 1729.6"/><path d="M620.3 1721.8L186 1729.6"/><path d="M620.7 1748.9L186 1729.6"/><path d="M619.8 1783.6L186 1729.6"/><path d="M607.2 1796.5L186 1729.6"/><path d="M621.1 1799.7L186 1729.6"/>
</g>
<g stroke="#E41F26" stroke-opacity="0.42" stroke-width="1">
<path d="M119.3 1654.6L164 1781.1"/><path d="M119.3 1674.6L164 1781.1"/><path d="M123.4 1676.7L164 1781.1"/><path d="M124.5 1681.4L164 1781.1"/><path d="M125.6 1701.4L164 1781.1"/><path d="M124.9 1704.6L164 1781.1"/><path d="M117.5 1711.8L164 1781.1"/><path d="M126.9 1713.9L164 1781.1"/><path d="M118.4 1720L164 1781.1"/><path d="M122.3 1722.5L164 1781.1"/><path d="M121.7 1728.5L164 1781.1"/><path d="M126.9 1736.1L164 1781.1"/><path d="M124.9 1737.5L164 1781.1"/><path d="M119.3 1746.4L164 1781.1"/><path d="M122.3 1748.6L164 1781.1"/><path d="M117.5 1753.6L164 1781.1"/><path d="M116.2 1757.1L164 1781.1"/><path d="M106.6 1761.4L164 1781.1"/><path d="M119.3 1768.9L164 1781.1"/><path d="M121.7 1771.4L164 1781.1"/><path d="M116.2 1784.7L164 1781.1"/><path d="M117.5 1795L164 1781.1"/><path d="M121.7 1798.6L164 1781.1"/><path d="M122.5 1802.9L164 1781.1"/><path d="M114.9 1807.9L164 1781.1"/><path d="M118.4 1810L164 1781.1"/><path d="M120.6 1814L164 1781.1"/><path d="M123.4 1814.3L164 1781.1"/><path d="M121.7 1819.7L164 1781.1"/><path d="M119.3 1833.3L164 1781.1"/><path d="M122.5 1841.5L164 1781.1"/><path d="M117.5 1843.6L164 1781.1"/><path d="M120.6 1847.6L164 1781.1"/><path d="M117.1 1855.4L164 1781.1"/><path d="M120.6 1857.2L164 1781.1"/><path d="M112.1 1866.9L164 1781.1"/><path d="M131 1867.9L164 1781.1"/><path d="M118.4 1879L164 1781.1"/><path d="M121.4 1887.2L164 1781.1"/><path d="M115.3 1892.2L164 1781.1"/><path d="M121.4 1892.2L164 1781.1"/><path d="M118.8 1755.7L164 1781.1"/><path d="M123.6 1742.8L164 1781.1"/><path d="M121 1693.9L164 1781.1"/><path d="M120.1 1827.9L164 1781.1"/><path d="M124 1788.6L164 1781.1"/><path d="M116.9 1742.1L164 1781.1"/><path d="M125.6 1851.1L164 1781.1"/><path d="M118.8 1661.7L164 1781.1"/><path d="M123.2 1711.8L164 1781.1"/><path d="M127.1 1804.7L164 1781.1"/><path d="M602.1 1683.9L164 1781.1"/><path d="M604.8 1714.6L164 1781.1"/><path d="M591.2 1777.5L164 1781.1"/><path d="M596.2 1785.4L164 1781.1"/><path d="M618.3 1788.2L164 1781.1"/>
</g>
<g fill="none" stroke="#20A387" stroke-width="1.1">
<circle cx="116.2" cy="1435.5" r="3.2"/><circle cx="120.6" cy="1561.6" r="3.2"/><circle cx="123.8" cy="1559.5" r="3.2"/><circle cx="117.9" cy="1571.6" r="3.2"/><circle cx="130.2" cy="1608.5" r="3.2"/><circle cx="117.5" cy="1634.6" r="3.2"/><circle cx="129.3" cy="1631" r="3.2"/><circle cx="121.2" cy="1669.6" r="3.2"/><circle cx="116.2" cy="1686.4" r="3.2"/><circle cx="126" cy="1684.2" r="3.2"/><circle cx="122.3" cy="1693.5" r="3.2"/><circle cx="120.6" cy="1699.2" r="3.2"/><circle cx="119.7" cy="1708.5" r="3.2"/><circle cx="126.9" cy="1714.6" r="3.2"/><circle cx="114.2" cy="1741.4" r="3.2"/><circle cx="119.7" cy="1755" r="3.2"/><circle cx="122.5" cy="1746.4" r="3.2"/><circle cx="117.5" cy="1775.4" r="3.2"/><circle cx="124.7" cy="1778.2" r="3.2"/><circle cx="123.4" cy="1786.8" r="3.2"/><circle cx="119.3" cy="1812.2" r="3.2"/><circle cx="126.9" cy="1834.3" r="3.2"/><circle cx="124.7" cy="1845.8" r="3.2"/><circle cx="123.8" cy="1862.9" r="3.2"/><circle cx="122.3" cy="1802.9" r="3.2"/><circle cx="120.1" cy="1727.8" r="3.2"/><circle cx="124.5" cy="1663.5" r="3.2"/><circle cx="121.2" cy="1768.9" r="3.2"/><circle cx="126.7" cy="1840.4" r="3.2"/><circle cx="118.4" cy="1756.4" r="3.2"/><circle cx="123.4" cy="1820.8" r="3.2"/><circle cx="127.8" cy="1702.8" r="3.2"/><circle cx="120.6" cy="1733.2" r="3.2"/><circle cx="122.8" cy="1852.9" r="3.2"/><circle cx="620.3" cy="1721.8" r="3.2"/><circle cx="620.7" cy="1748.9" r="3.2"/><circle cx="619.8" cy="1783.6" r="3.2"/><circle cx="607.2" cy="1796.5" r="3.2"/><circle cx="621.1" cy="1799.7" r="3.2"/>
</g>
<g>
<use href="#tr" x="119.3" y="1654.6"/><use href="#tr" x="119.3" y="1674.6"/><use href="#tr" x="123.4" y="1676.7"/><use href="#tr" x="124.5" y="1681.4"/><use href="#tr" x="125.6" y="1701.4"/><use href="#tr" x="124.9" y="1704.6"/><use href="#tr" x="117.5" y="1711.8"/><use href="#tr" x="126.9" y="1713.9"/><use href="#tr" x="118.4" y="1720"/><use href="#tr" x="122.3" y="1722.5"/><use href="#tr" x="121.7" y="1728.5"/><use href="#tr" x="126.9" y="1736.1"/><use href="#tr" x="124.9" y="1737.5"/><use href="#tr" x="119.3" y="1746.4"/><use href="#tr" x="122.3" y="1748.6"/><use href="#tr" x="117.5" y="1753.6"/><use href="#tr" x="116.2" y="1757.1"/><use href="#tr" x="106.6" y="1761.4"/><use href="#tr" x="119.3" y="1768.9"/><use href="#tr" x="121.7" y="1771.4"/><use href="#tr" x="116.2" y="1784.7"/><use href="#tr" x="117.5" y="1795"/><use href="#tr" x="121.7" y="1798.6"/><use href="#tr" x="122.5" y="1802.9"/><use href="#tr" x="114.9" y="1807.9"/><use href="#tr" x="118.4" y="1810"/><use href="#tr" x="120.6" y="1814"/><use href="#tr" x="123.4" y="1814.3"/><use href="#tr" x="121.7" y="1819.7"/><use href="#tr" x="119.3" y="1833.3"/><use href="#tr" x="122.5" y="1841.5"/><use href="#tr" x="117.5" y="1843.6"/><use href="#tr" x="120.6" y="1847.6"/><use href="#tr" x="117.1" y="1855.4"/><use href="#tr" x="120.6" y="1857.2"/><use href="#tr" x="112.1" y="1866.9"/><use href="#tr" x="131" y="1867.9"/><use href="#tr" x="118.4" y="1879"/><use href="#tr" x="121.4" y="1887.2"/><use href="#tr" x="115.3" y="1892.2"/><use href="#tr" x="121.4" y="1892.2"/><use href="#tr" x="118.8" y="1755.7"/><use href="#tr" x="123.6" y="1742.8"/><use href="#tr" x="121" y="1693.9"/><use href="#tr" x="120.1" y="1827.9"/><use href="#tr" x="124" y="1788.6"/><use href="#tr" x="116.9" y="1742.1"/><use href="#tr" x="125.6" y="1851.1"/><use href="#tr" x="118.8" y="1661.7"/><use href="#tr" x="123.2" y="1711.8"/><use href="#tr" x="127.1" y="1804.7"/><use href="#tr" x="602.1" y="1683.9"/><use href="#tr" x="604.8" y="1714.6"/><use href="#tr" x="591.2" y="1777.5"/><use href="#tr" x="596.2" y="1785.4"/><use href="#tr" x="618.3" y="1788.2"/>
</g>
<g fill="none" stroke-width="1.2">
<g transform="translate(186,1729.6)" stroke="#20A387"><rect x="-3.5" y="-3.5" width="7" height="7"/><path d="M-3.5-3.5L3.5 3.5M3.5-3.5L-3.5 3.5"/></g>
<g transform="translate(164,1781.1)" stroke="#E41F26"><rect x="-3.5" y="-3.5" width="7" height="7"/><path d="M-3.5-3.5L3.5 3.5M3.5-3.5L-3.5 3.5"/></g>
</g>

<!-- ================= PANEL D ================= -->
<g class="r">
<text class="pl" x="850" y="1374">D</text>
<text x="1226" y="1385" style="font-size:18.5px;font-weight:bold" text-anchor="middle">PCA for two GEO datasets(After)</text>
<rect x="949.5" y="1417.5" width="552.8" height="494.7" fill="none" stroke="#000" stroke-width="1"/>
<path d="M1010.3 1912.2v7M1125.6 1912.2v7M1240.9 1912.2v7M1356.1 1912.2v7M1471.4 1912.2v7M949.5 1911h-7M949.5 1758.2h-7M949.5 1605.4h-7M949.5 1452.6h-7" stroke="#000" stroke-width="1"/>
<g text-anchor="middle">
<text x="1010.3" y="1947">−50</text><text x="1125.6" y="1947">0</text><text x="1240.9" y="1947">50</text><text x="1356.1" y="1947">100</text><text x="1471.4" y="1947">150</text>
<text transform="translate(927,1911) rotate(-90)">−100</text><text transform="translate(927,1758.2) rotate(-90)">−50</text><text transform="translate(927,1605.4) rotate(-90)">0</text><text transform="translate(927,1452.6) rotate(-90)">50</text>
<text x="1226" y="1984">Comp 1: 18.3% variance</text>
<text transform="translate(889,1665) rotate(-90)">Comp 2: 5.9% variance</text>
</g>
<path d="M1125.6 1417.5V1912.2M949.5 1605.4H1502.3" stroke="#C0313A" stroke-width="1" stroke-dasharray="4 3"/>
<rect x="949.5" y="1417.5" width="115" height="57.1" fill="none" stroke="#000" stroke-width="1"/>
<path d="M953.8 1437H982.7" stroke="#20A387" stroke-width="1"/><circle cx="967.6" cy="1437" r="3.2" fill="none" stroke="#20A387" stroke-width="1.1"/>
<path d="M953.8 1456H982.7" stroke="#E41F26" stroke-width="1"/><use href="#tr" x="967.6" y="1456"/>
<text x="996.9" y="1442.5" style="fill:#20A387">Epilepsy</text>
<text x="996.9" y="1461.5" style="fill:#E41F26">Normal</text>
</g>
<g stroke="#20A387" stroke-opacity="0.5" stroke-width="1">
<path d="M1481 1562.9L1160 1605.7"/><path d="M1186.2 1463.9L1160 1605.7"/><path d="M1187.1 1525L1160 1605.7"/><path d="M1136.9 1526.2L1160 1605.7"/><path d="M1132.5 1546.1L1160 1605.7"/><path d="M1093.3 1551.6L1160 1605.7"/><path d="M1096.8 1565.1L1160 1605.7"/><path d="M1201.4 1562.6L1160 1605.7"/><path d="M1280 1573.3L1160 1605.7"/><path d="M1265.5 1588.6L1160 1605.7"/><path d="M1139.4 1575.8L1160 1605.7"/><path d="M1149.8 1581.3L1160 1605.7"/><path d="M1134.1 1582.2L1160 1605.7"/><path d="M1112.2 1585.2L1160 1605.7"/><path d="M1068.4 1574.5L1160 1605.7"/><path d="M1082 1578.8L1160 1605.7"/><path d="M1033.4 1582.5L1160 1605.7"/><path d="M1067.5 1589.2L1160 1605.7"/><path d="M1030.9 1600.2L1160 1605.7"/><path d="M1081.8 1605.1L1160 1605.7"/><path d="M1114.1 1603L1160 1605.7"/><path d="M1160.4 1603L1160 1605.7"/><path d="M1023.5 1616.7L1160 1605.7"/><path d="M1185.1 1611.2L1160 1605.7"/><path d="M1189 1606.6L1160 1605.7"/><path d="M1112.2 1623.1L1160 1605.7"/><path d="M1104.2 1628.6L1160 1605.7"/><path d="M1207.9 1628.6L1160 1605.7"/><path d="M1331.7 1628.6L1160 1605.7"/><path d="M1345 1635L1160 1605.7"/><path d="M1191.1 1638.4L1160 1605.7"/><path d="M1218.9 1649.7L1160 1605.7"/><path d="M1090.3 1655.8L1160 1605.7"/><path d="M1289.5 1680.3L1160 1605.7"/><path d="M1341.6 1686.7L1160 1605.7"/><path d="M1211.6 1704.7L1160 1605.7"/><path d="M1024.4 1740.8L1160 1605.7"/><path d="M991.2 1775L1160 1605.7"/><path d="M1171.7 1596.2L1160 1605.7"/>
</g>
<g stroke="#E41F26" stroke-opacity="0.42" stroke-width="1">
<path d="M1187.1 1435.2L1101.4 1605.4"/><path d="M1018.4 1457.8L1101.4 1605.4"/><path d="M1124.2 1504.2L1101.4 1605.4"/><path d="M1025.3 1512.2L1101.4 1605.4"/><path d="M984.8 1522.9L1101.4 1605.4"/><path d="M997 1527.5L1101.4 1605.4"/><path d="M1020 1523.2L1101.4 1605.4"/><path d="M1114.1 1524.4L1101.4 1605.4"/><path d="M1162.7 1532.1L1101.4 1605.4"/><path d="M1146.8 1541.8L1101.4 1605.4"/><path d="M1202.6 1540.6L1101.4 1605.4"/><path d="M1224.3 1536.3L1101.4 1605.4"/><path d="M1190.1 1551.9L1101.4 1605.4"/><path d="M1082.5 1556.8L1101.4 1605.4"/><path d="M987.1 1570.3L1101.4 1605.4"/><path d="M1033.9 1571.5L1101.4 1605.4"/><path d="M1065.7 1574.2L1101.4 1605.4"/><path d="M1080.9 1575.8L1101.4 1605.4"/><path d="M1098.4 1577L1101.4 1605.4"/><path d="M1223.8 1579.1L1101.4 1605.4"/><path d="M1178.6 1583.1L1101.4 1605.4"/><path d="M1116.1 1585.5L1101.4 1605.4"/><path d="M1130.7 1585.2L1101.4 1605.4"/><path d="M1132.1 1589.8L1101.4 1605.4"/><path d="M1248.7 1590.1L1101.4 1605.4"/><path d="M1129.5 1598.7L1101.4 1605.4"/><path d="M970.2 1599.6L1101.4 1605.4"/><path d="M1043.8 1603.6L1101.4 1605.4"/><path d="M1036.2 1609.1L1101.4 1605.4"/><path d="M1058.1 1608.8L1101.4 1605.4"/><path d="M1136.9 1610L1101.4 1605.4"/><path d="M1145.9 1609.1L1101.4 1605.4"/><path d="M1157.9 1607.8L1101.4 1605.4"/><path d="M1170.8 1606.6L1101.4 1605.4"/><path d="M1134.6 1616.4L1101.4 1605.4"/><path d="M1129.1 1624L1101.4 1605.4"/><path d="M1056.7 1625.3L1101.4 1605.4"/><path d="M1120.5 1628.3L1101.4 1605.4"/><path d="M1130 1632.9L1101.4 1605.4"/><path d="M1142 1629.5L1101.4 1605.4"/><path d="M1019.3 1644.8L1101.4 1605.4"/><path d="M1012 1649.1L1101.4 1605.4"/><path d="M1026.3 1640.5L1101.4 1605.4"/><path d="M1069.1 1637.2L1101.4 1605.4"/><path d="M1062.7 1641.5L1101.4 1605.4"/><path d="M1128.1 1641.5L1101.4 1605.4"/><path d="M1072.1 1658L1101.4 1605.4"/><path d="M1086.9 1661.6L1101.4 1605.4"/><path d="M1124 1663.5L1101.4 1605.4"/><path d="M1144 1681.2L1101.4 1605.4"/><path d="M998.6 1690.1L1101.4 1605.4"/><path d="M1019.3 1709L1101.4 1605.4"/><path d="M1133.7 1696.8L1101.4 1605.4"/><path d="M1078.3 1714.2L1101.4 1605.4"/><path d="M1158.3 1758.2L1101.4 1605.4"/><path d="M1199.6 1893.6L1101.4 1605.4"/>
</g>
<g fill="none" stroke="#20A387" stroke-width="1.1">
<circle cx="1481" cy="1562.9" r="3.2"/><circle cx="1186.2" cy="1463.9" r="3.2"/><circle cx="1187.1" cy="1525" r="3.2"/><circle cx="1136.9" cy="1526.2" r="3.2"/><circle cx="1132.5" cy="1546.1" r="3.2"/><circle cx="1093.3" cy="1551.6" r="3.2"/><circle cx="1096.8" cy="1565.1" r="3.2"/><circle cx="1201.4" cy="1562.6" r="3.2"/><circle cx="1280" cy="1573.3" r="3.2"/><circle cx="1265.5" cy="1588.6" r="3.2"/><circle cx="1139.4" cy="1575.8" r="3.2"/><circle cx="1149.8" cy="1581.3" r="3.2"/><circle cx="1134.1" cy="1582.2" r="3.2"/><circle cx="1112.2" cy="1585.2" r="3.2"/><circle cx="1068.4" cy="1574.5" r="3.2"/><circle cx="1082" cy="1578.8" r="3.2"/><circle cx="1033.4" cy="1582.5" r="3.2"/><circle cx="1067.5" cy="1589.2" r="3.2"/><circle cx="1030.9" cy="1600.2" r="3.2"/><circle cx="1081.8" cy="1605.1" r="3.2"/><circle cx="1114.1" cy="1603" r="3.2"/><circle cx="1160.4" cy="1603" r="3.2"/><circle cx="1023.5" cy="1616.7" r="3.2"/><circle cx="1185.1" cy="1611.2" r="3.2"/><circle cx="1189" cy="1606.6" r="3.2"/><circle cx="1112.2" cy="1623.1" r="3.2"/><circle cx="1104.2" cy="1628.6" r="3.2"/><circle cx="1207.9" cy="1628.6" r="3.2"/><circle cx="1331.7" cy="1628.6" r="3.2"/><circle cx="1345" cy="1635" r="3.2"/><circle cx="1191.1" cy="1638.4" r="3.2"/><circle cx="1218.9" cy="1649.7" r="3.2"/><circle cx="1090.3" cy="1655.8" r="3.2"/><circle cx="1289.5" cy="1680.3" r="3.2"/><circle cx="1341.6" cy="1686.7" r="3.2"/><circle cx="1211.6" cy="1704.7" r="3.2"/><circle cx="1024.4" cy="1740.8" r="3.2"/><circle cx="991.2" cy="1775" r="3.2"/><circle cx="1171.7" cy="1596.2" r="3.2"/>
</g>
<g>
<use href="#tr" x="1187.1" y="1435.2"/><use href="#tr" x="1018.4" y="1457.8"/><use href="#tr" x="1124.2" y="1504.2"/><use href="#tr" x="1025.3" y="1512.2"/><use href="#tr" x="984.8" y="1522.9"/><use href="#tr" x="997" y="1527.5"/><use href="#tr" x="1020" y="1523.2"/><use href="#tr" x="1114.1" y="1524.4"/><use href="#tr" x="1162.7" y="1532.1"/><use href="#tr" x="1146.8" y="1541.8"/><use href="#tr" x="1202.6" y="1540.6"/><use href="#tr" x="1224.3" y="1536.3"/><use href="#tr" x="1190.1" y="1551.9"/><use href="#tr" x="1082.5" y="1556.8"/><use href="#tr" x="987.1" y="1570.3"/><use href="#tr" x="1033.9" y="1571.5"/><use href="#tr" x="1065.7" y="1574.2"/><use href="#tr" x="1080.9" y="1575.8"/><use href="#tr" x="1098.4" y="1577"/><use href="#tr" x="1223.8" y="1579.1"/><use href="#tr" x="1178.6" y="1583.1"/><use href="#tr" x="1116.1" y="1585.5"/><use href="#tr" x="1130.7" y="1585.2"/><use href="#tr" x="1132.1" y="1589.8"/><use href="#tr" x="1248.7" y="1590.1"/><use href="#tr" x="1129.5" y="1598.7"/><use href="#tr" x="970.2" y="1599.6"/><use href="#tr" x="1043.8" y="1603.6"/><use href="#tr" x="1036.2" y="1609.1"/><use href="#tr" x="1058.1" y="1608.8"/><use href="#tr" x="1136.9" y="1610"/><use href="#tr" x="1145.9" y="1609.1"/><use href="#tr" x="1157.9" y="1607.8"/><use href="#tr" x="1170.8" y="1606.6"/><use href="#tr" x="1134.6" y="1616.4"/><use href="#tr" x="1129.1" y="1624"/><use href="#tr" x="1056.7" y="1625.3"/><use href="#tr" x="1120.5" y="1628.3"/><use href="#tr" x="1130" y="1632.9"/><use href="#tr" x="1142" y="1629.5"/><use href="#tr" x="1019.3" y="1644.8"/><use href="#tr" x="1012" y="1649.1"/><use href="#tr" x="1026.3" y="1640.5"/><use href="#tr" x="1069.1" y="1637.2"/><use href="#tr" x="1062.7" y="1641.5"/><use href="#tr" x="1128.1" y="1641.5"/><use href="#tr" x="1072.1" y="1658"/><use href="#tr" x="1086.9" y="1661.6"/><use href="#tr" x="1124" y="1663.5"/><use href="#tr" x="1144" y="1681.2"/><use href="#tr" x="998.6" y="1690.1"/><use href="#tr" x="1019.3" y="1709"/><use href="#tr" x="1133.7" y="1696.8"/><use href="#tr" x="1078.3" y="1714.2"/><use href="#tr" x="1158.3" y="1758.2"/><use href="#tr" x="1199.6" y="1893.6"/>
</g>
<g fill="none" stroke-width="1.2">
<g transform="translate(1160,1605.7)" stroke="#20A387"><rect x="-3.5" y="-3.5" width="7" height="7"/><path d="M-3.5-3.5L3.5 3.5M3.5-3.5L-3.5 3.5"/></g>
<g transform="translate(1101.4,1605.4)" stroke="#E41F26"><rect x="-3.5" y="-3.5" width="7" height="7"/><path d="M-3.5-3.5L3.5 3.5M3.5-3.5L-3.5 3.5"/></g>
</g>
</svg>
</body></html>
